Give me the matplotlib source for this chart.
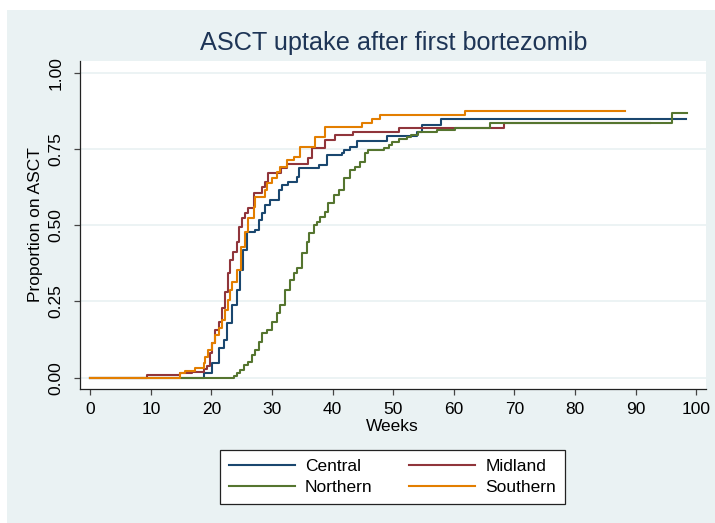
import matplotlib
matplotlib.use("Agg")
import matplotlib.pyplot as plt
from matplotlib.patches import Rectangle

plt.rcParams['font.family'] = ['Liberation Sans', 'DejaVu Sans']

# cumulative proportion on ASCT by week (step curves)
weeks_c = [0, 18.7, 20.1, 21.2, 22.0, 22.5, 23.4, 24.2, 24.75, 25.2,
           25.9, 27.2, 27.8, 28.3, 28.9, 29.7, 31.1, 31.6, 32.7, 34.1,
           34.4, 37.7, 39.1, 41.5, 41.8, 42.9, 44.0, 49.0, 53.9, 54.7,
           57.8, 98.3]
prop_c = [0, 0.014, 0.047, 0.096, 0.124, 0.178, 0.238, 0.287, 0.353, 0.418,
          0.478, 0.484, 0.517, 0.539, 0.566, 0.582, 0.615, 0.631, 0.642, 0.659,
          0.686, 0.697, 0.730, 0.735, 0.746, 0.757, 0.777, 0.792, 0.806, 0.828,
          0.847, 0.847]

weeks_m = [0, 9.35, 14.85, 16.8, 18.7, 19.25, 19.7, 20.1, 20.6, 21.2,
           21.7, 22.3, 22.8, 23.1, 23.6, 24.2, 24.5, 25.0, 25.6, 26.1,
           27.0, 28.3, 28.9, 29.4, 31.4, 32.5, 36.0, 36.6, 38.8, 40.4,
           43.4, 50.9, 68.2, 92.4]
prop_m = [0, 0.009, 0.014, 0.020, 0.027, 0.040, 0.080, 0.113, 0.156, 0.183,
          0.227, 0.282, 0.342, 0.386, 0.413, 0.446, 0.495, 0.522, 0.539, 0.555,
          0.604, 0.626, 0.642, 0.670, 0.686, 0.702, 0.719, 0.752, 0.779, 0.795,
          0.806, 0.820, 0.836, 0.836]

weeks_n = [0, 23.65, 24.2, 24.75, 25.3, 26.1, 26.7, 27.2, 27.8, 28.3,
           29.2, 30.0, 30.8, 31.35, 32.2, 33.0, 33.55, 34.1, 34.9, 35.8,
           36.05, 36.9, 37.4, 37.95, 38.8, 39.3, 40.15, 41.0, 41.8, 42.9,
           43.7, 44.55, 45.4, 45.9, 48.4, 49.3, 49.8, 50.9, 52.3, 53.0,
           54.1, 57.2, 60.2, 66.0, 96.0, 98.5]
prop_n = [0, 0.007, 0.014, 0.025, 0.042, 0.052, 0.074, 0.091, 0.118, 0.145,
          0.156, 0.183, 0.211, 0.238, 0.287, 0.320, 0.342, 0.358, 0.408, 0.446,
          0.473, 0.500, 0.511, 0.528, 0.544, 0.571, 0.599, 0.615, 0.653, 0.681,
          0.691, 0.708, 0.735, 0.746, 0.752, 0.762, 0.773, 0.781, 0.790, 0.795,
          0.806, 0.811, 0.820, 0.836, 0.868, 0.868]

weeks_s = [0, 14.85, 15.7, 17.3, 18.7, 19.0, 19.5, 20.1, 20.6, 21.2,
           21.7, 22.3, 22.8, 23.1, 23.4, 24.2, 24.9, 25.6, 26.1, 27.0,
           27.2, 28.9, 29.2, 30.0, 30.8, 31.35, 32.5, 33.55, 34.65, 37.1,
           38.8, 44.8, 46.5, 47.85, 61.9, 88.3]
prop_s = [0, 0.014, 0.023, 0.031, 0.047, 0.069, 0.091, 0.113, 0.140, 0.162,
          0.189, 0.222, 0.255, 0.287, 0.315, 0.353, 0.429, 0.478, 0.522, 0.560,
          0.593, 0.615, 0.637, 0.653, 0.675, 0.691, 0.713, 0.724, 0.757, 0.790,
          0.822, 0.836, 0.847, 0.861, 0.875, 0.875]

xticks = list(range(0, 101, 10))
yticks = [0, 0.25, 0.5, 0.75, 1.0]
ytick_labels = ['0.00', '0.25', '0.50', '0.75', '1.00']

W, H = 715, 523
fig = plt.figure(figsize=(W / 100, H / 100), dpi=100, facecolor='#EAF2F3')
# thin white strips top and left, as in the exported image
fig.patches.append(Rectangle((0, 1 - 10 / H), 1, 10 / H, transform=fig.transFigure,
                             facecolor='white', edgecolor='none'))
fig.patches.append(Rectangle((0, 0), 7 / W, 1, transform=fig.transFigure,
                             facecolor='white', edgecolor='none'))

ax = fig.add_axes([79.5 / W, (H - 389) / H, (706 - 79.5) / W, (389 - 61) / H])
ax.set_facecolor('white')

series = [(weeks_c, prop_c, 'Central', '#1A476F'),
          (weeks_m, prop_m, 'Midland', '#90353B'),
          (weeks_n, prop_n, 'Northern', '#55752F'),
          (weeks_s, prop_s, 'Southern', '#E37E00')]
lines = {}
for wk, pr, lab, col in series:
    lines[lab], = ax.plot(wk, pr, drawstyle='steps-post', color=col, lw=1.5, label=lab)

ax.set_xlim(-1.77, 101.6)
ax.set_ylim(-0.037, 1.038)
ax.set_xticks(xticks)
ax.set_yticks(yticks)
ax.set_yticklabels(ytick_labels, rotation=90, va='center')
ax.tick_params(axis='both', labelsize=12.5, colors='#444444', labelcolor='black',
               length=4.5, width=0.9)
ax.tick_params(axis='y', pad=7)
ax.tick_params(axis='x', pad=5)
ax.grid(axis='y', color='#EAF2F3', lw=1.3)
ax.set_axisbelow(True)
for s in ['top', 'right']:
    ax.spines[s].set_visible(False)
for s in ['left', 'bottom']:
    ax.spines[s].set_color('#222222')
    ax.spines[s].set_linewidth(0.9)

ax.set_xlabel('Weeks', fontsize=12.5, labelpad=1)
ax.set_ylabel('Proportion on ASCT', fontsize=12.5, labelpad=4)
fig.text(394 / W, 1 - 43 / H, 'ASCT uptake after first bortezomib',
         fontsize=18.2, color='#1E3556', ha='center', va='center')

# matplotlib fills legend columns first; order so rows read Central/Midland, Northern/Southern
order = ['Central', 'Northern', 'Midland', 'Southern']
leg = fig.legend([lines[k] for k in order], order, loc='center',
                 bbox_to_anchor=(392.5 / W, 1 - 477 / H), ncol=2,
                 fontsize=12.5, frameon=True, fancybox=False, handlelength=3.8,
                 handletextpad=0.6, columnspacing=2.1, labelspacing=0.35,
                 borderpad=0.5)
leg.get_frame().set_edgecolor('#222222')
leg.get_frame().set_facecolor('white')
leg.get_frame().set_alpha(1)
leg.get_frame().set_linewidth(0.9)

fig.savefig('out.png', dpi=100, facecolor=fig.get_facecolor())
